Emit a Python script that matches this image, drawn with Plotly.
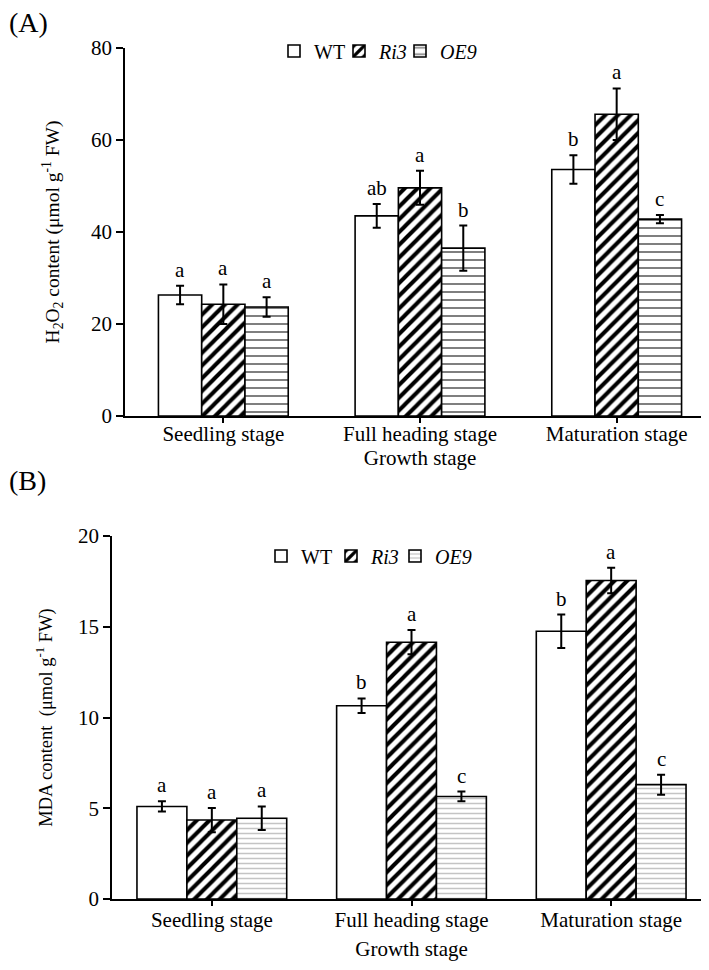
import plotly.graph_objects as go

categories = ["Seedling stage", "Full heading stage", "Maturation stage"]
series = ["WT", "Ri3", "OE9"]
series_labels = ["WT", "<i>Ri3</i>", "<i>OE9</i>"]

h2o2_mean = {"WT": [26.3, 43.5, 53.6], "Ri3": [24.3, 49.6, 65.6], "OE9": [23.7, 36.5, 42.8]}
h2o2_err = {"WT": [2.0, 2.6, 3.1], "Ri3": [4.3, 3.7, 5.6], "OE9": [2.1, 4.9, 0.9]}
h2o2_sig = {"WT": ["a", "ab", "b"], "Ri3": ["a", "a", "a"], "OE9": ["a", "b", "c"]}

mda_mean = {"WT": [5.1, 10.65, 14.75], "Ri3": [4.35, 14.15, 17.55], "OE9": [4.45, 5.65, 6.3]}
mda_err = {"WT": [0.28, 0.4, 0.92], "Ri3": [0.67, 0.67, 0.7], "OE9": [0.65, 0.27, 0.55]}
mda_sig = {"WT": ["a", "b", "b"], "Ri3": ["a", "a", "a"], "OE9": ["a", "c", "c"]}

FONT = "Liberation Serif"
W, H = 709, 970

def px_x(p):
    return p / W

def px_y(p):
    return 1 - p / H

patterns_A = {
    "WT": dict(shape=""),
    "Ri3": dict(shape="/", size=9, solidity=0.45, fgcolor="black", bgcolor="white", fgopacity=1),
    "OE9": dict(shape="-", size=8, solidity=0.25, fgcolor="black", bgcolor="white"),
}
patterns_B = {
    "WT": dict(shape=""),
    "Ri3": dict(shape="/", size=9, solidity=0.45, fgcolor="black", bgcolor="white", fgopacity=1),
    "OE9": dict(shape="-", size=5, solidity=0.3, fgcolor="#8a8a8a", bgcolor="white"),
}

# legend symbol positions (left edge of each one-item legend, px) and vertical centre
legend_pos_A = {"WT": 266, "Ri3": 331, "OE9": 392, "y": 43}
legend_pos_B = {"WT": 253, "Ri3": 323, "OE9": 387, "y": 548}

fig = go.Figure()
xs = list(range(len(categories)))

panels = [
    dict(mean=h2o2_mean, err=h2o2_err, sig=h2o2_sig, w=0.22, pat=patterns_A,
         xa="x", ya="y", lpos=legend_pos_A, lstart=1),
    dict(mean=mda_mean, err=mda_err, sig=mda_sig, w=0.25, pat=patterns_B,
         xa="x2", ya="y2", lpos=legend_pos_B, lstart=4),
]

annotations = []
legends = {}
for p in panels:
    w = p["w"]
    for j, s in enumerate(series):
        off = -1.5 * w + j * w
        k = p["lstart"] + j
        lname = "legend" if k == 1 else f"legend{k}"
        legends[lname] = dict(
            x=px_x(p["lpos"][s]), y=px_y(p["lpos"]["y"]), xanchor="left", yanchor="middle",
            orientation="h", font=dict(family=FONT, size=20, color="black"),
            bgcolor="rgba(0,0,0,0)", itemwidth=30,
        )
        fig.add_trace(go.Bar(
            x=xs, y=p["mean"][s], name=series_labels[j],
            width=w, offset=off,
            marker=dict(color="white", line=dict(color="black", width=1.6),
                        pattern=p["pat"][s]),
            error_y=dict(type="data", array=p["err"][s], color="black",
                         thickness=2, width=4),
            xaxis=p["xa"], yaxis=p["ya"], legend=lname,
        ))
        for i in xs:
            annotations.append(dict(
                x=i + off + w / 2, y=p["mean"][s][i] + p["err"][s][i],
                xref=p["xa"], yref=p["ya"], text=p["sig"][s][i],
                showarrow=False, yanchor="bottom", yshift=2,
                font=dict(family=FONT, size=21, color="black"),
            ))

annotations += [
    dict(x=0, y=1, xref="paper", yref="paper", text="(A)", showarrow=False,
         xanchor="left", yanchor="top", xshift=-1, yshift=3,
         font=dict(family=FONT, size=28, color="black")),
    dict(x=0, y=px_y(455), xref="paper", yref="paper", text="(B)", showarrow=False,
         xanchor="left", yanchor="top", xshift=-1,
         font=dict(family=FONT, size=28, color="black")),
]

axis_common = dict(showline=True, linecolor="black", linewidth=1.6, ticks="outside",
                   tickcolor="black", tickwidth=1.6, showgrid=False, zeroline=False,
                   tickfont=dict(family=FONT, size=21, color="black"))

fig.update_layout(
    width=W, height=H, plot_bgcolor="white", paper_bgcolor="white",
    margin=dict(l=0, r=0, t=0, b=0, autoexpand=False),
    barmode="overlay", showlegend=True,
    annotations=annotations,
    xaxis=dict(domain=[px_x(117), px_x(707)], range=[-0.5, 2.5],
               tickvals=[0, 1, 2, 2.5], ticktext=categories + [""], ticklen=5,
               ticklabelstandoff=-7, anchor="y",
               title=dict(text="Growth stage", font=dict(family=FONT, size=21, color="black"),
                          standoff=0),
               **axis_common),
    yaxis=dict(domain=[px_y(408), px_y(40)], range=[0, 80], tickvals=[0, 20, 40, 60, 80],
               ticklen=7, anchor="x",
               title=dict(text="H<sub>2</sub>O<sub>2</sub> content (μmol g<sup>-1</sup> FW)",
                          font=dict(family=FONT, size=19.5, color="black"), standoff=26),
               **axis_common),
    xaxis2=dict(domain=[px_x(104), px_x(703)], range=[-0.5, 2.5],
                tickvals=[0, 1, 2, 2.5], ticktext=categories + [""], ticklen=5,
                ticklabelstandoff=-4, anchor="y2",
                title=dict(text="Growth stage", font=dict(family=FONT, size=21, color="black"),
                           standoff=10),
                **axis_common),
    yaxis2=dict(domain=[px_y(891), px_y(528)], range=[0, 20], tickvals=[0, 5, 10, 15, 20],
                ticklen=7, anchor="x2",
                title=dict(text="MDA content  (μmol g<sup>-1</sup> FW)",
                           font=dict(family=FONT, size=18.5, color="black"), standoff=21),
                **axis_common),
    **legends,
)

fig.write_html("out.html")
